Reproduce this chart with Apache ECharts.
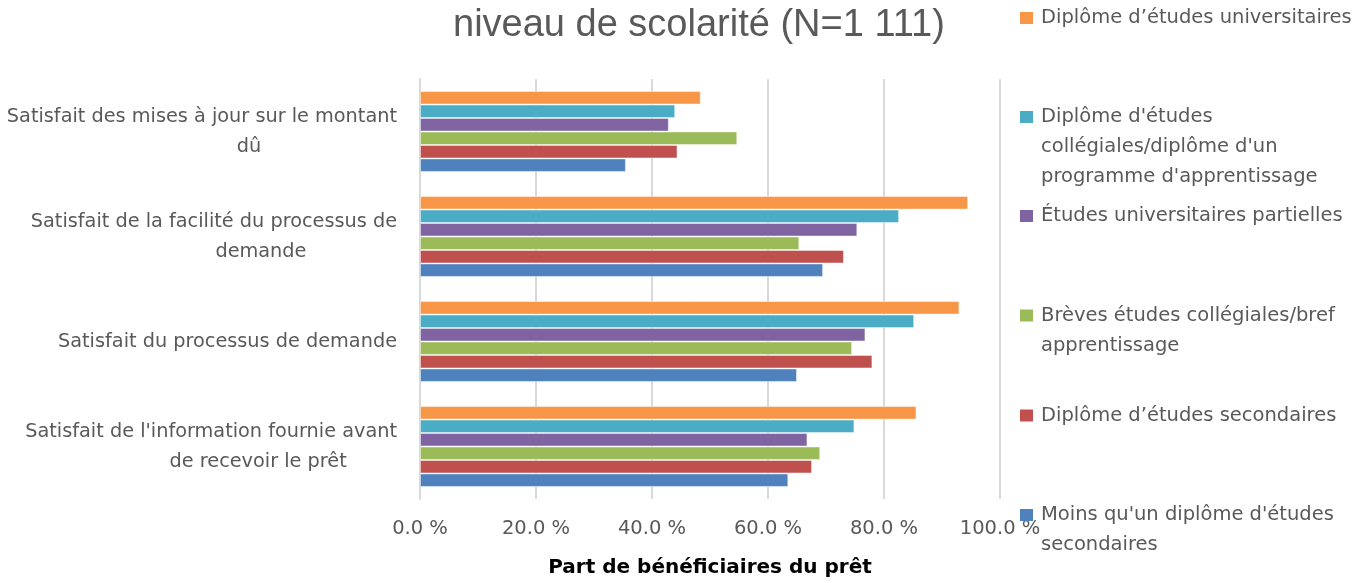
<!DOCTYPE html>
<html>
<head>
<meta charset="utf-8">
<script src="https://cdn.jsdelivr.net/npm/echarts@6/dist/echarts.min.js"></script>
<style>
  html, body { margin: 0; padding: 0; background: #fff; }
  #chart { width: 1371px; height: 583px; }
</style>
</head>
<body>
<div id="chart"></div>
<script>
// Categories, bottom to top
const categories = [
    "Satisfait de l'information fournie avant\nde recevoir le prêt",
    "Satisfait du processus de demande",
    "Satisfait de la facilité du processus de\ndemande",
    "Satisfait des mises à jour sur le montant\ndû"
];

// Series, top bar to bottom bar within each group (same as legend order)
const seriesNames = [
    "Diplôme d’études universitaires",
    "Diplôme d'études collégiales/diplôme d'un programme d'apprentissage",
    "Études universitaires partielles",
    "Brèves études collégiales/bref apprentissage",
    "Diplôme d’études secondaires",
    "Moins qu'un diplôme d'études secondaires"
];
const legendLabels = [
    "Diplôme d’études universitaires",
    "Diplôme d'études\ncollégiales/diplôme d'un\nprogramme d'apprentissage",
    "Études universitaires partielles",
    "Brèves études collégiales/bref\napprentissage",
    "Diplôme d’études secondaires",
    "Moins qu'un diplôme d'études\nsecondaires"
];

// Percent values, same order as categories
const universityDegree = [85.6, 93.0, 94.5, 48.4];
const collegeDiploma = [74.9, 85.2, 82.6, 44.0];
const partialUniversity = [66.8, 76.8, 75.4, 42.9];
const shortCollege = [69.0, 74.5, 65.4, 54.7];
const highSchool = [67.6, 78.0, 73.1, 44.4];
const lessThanHighSchool = [63.5, 65.0, 69.5, 35.5];
const seriesValues = [universityDegree, collegeDiploma, partialUniversity, shortCollege, highSchool, lessThanHighSchool];

const colors = ['#F79646', '#4BACC6', '#8064A2', '#9BBB59', '#C0504D', '#4F81BD'];

// legend icon vertical centres, top to bottom
const legendCenters = [18, 117, 216, 315.5, 415.5, 515];

const FONT = 'DejaVu Sans';
const FS = 19.3;
const LH = 30;

const chart = echarts.init(document.getElementById('chart'), null, { renderer: 'canvas' });

// one legend per item so each can sit at its own height;
// blank lines on top keep the icon level with the first text line
const legends = seriesNames.map((name, i) => {
    const lines = legendLabels[i].split('\n').length;
    const total = lines * 2 - 1;
    return {
        data: [name],
        left: 1020,
        top: legendCenters[i] - total * LH / 2,
        padding: 0,
        itemWidth: 13,
        itemHeight: 12,
        icon: 'rect',
        itemStyle: { borderWidth: 0 },
        selectedMode: false,
        formatter: () => '\n'.repeat(lines - 1) + legendLabels[i],
        textStyle: {
            fontFamily: FONT,
            fontSize: 19.5,
            color: '#595959',
            lineHeight: LH,
            padding: [0, 0, 0, 3]
        }
    };
});

const option = {
    backgroundColor: '#fff',
    animation: false,
    color: colors,
    title: {
        text: 'niveau de scolarité (N=1 111)',
        left: 448,
        top: 2,
        textStyle: {
            fontFamily: 'Liberation Sans',
            fontSize: 38,
            fontWeight: 'normal',
            color: '#595959'
        }
    },
    legend: legends,
    grid: { left: 420, right: 371, top: 79, bottom: 83, containLabel: false },
    xAxis: {
        type: 'value',
        min: 0,
        max: 100,
        interval: 20,
        name: 'Part de bénéficiaires du prêt',
        nameLocation: 'middle',
        nameGap: 59,
        nameTextStyle: {
            fontFamily: FONT,
            fontSize: 20,
            fontWeight: 'bold',
            color: '#000'
        },
        axisLine: { show: false },
        axisTick: { show: false },
        axisLabel: {
            margin: 20,
            fontFamily: FONT,
            fontSize: 19.5,
            color: '#595959',
            formatter: v => v.toFixed(1) + ' %'
        },
        splitLine: { lineStyle: { color: '#d9d9d9', width: 2 } }
    },
    yAxis: {
        type: 'category',
        data: categories,
        axisLine: { show: true, lineStyle: { color: '#d9d9d9', width: 2 } },
        axisTick: { show: false },
        axisLabel: {
            margin: 23,
            lineHeight: LH,
            formatter: v => {
                const parts = v.split('\n');
                if (parts.length === 1) return '{a|' + parts[0] + '}';
                return '{a|' + parts[0] + '}\n{b|' + parts[1] + '}';
            },
            rich: {
                a: { fontFamily: FONT, fontSize: FS, color: '#595959', lineHeight: LH },
                b: { fontFamily: FONT, fontSize: FS, color: '#595959', lineHeight: LH, align: 'center', padding: [0, 0, 0, 94] }
            }
        }
    },
    series: seriesNames.map((name, i) => ({
        name: name,
        type: 'bar',
        data: seriesValues[i],
        barGap: '0%',
        barCategoryGap: '23%',
        itemStyle: {
            color: colors[i],
            borderColor: 'rgba(255,255,255,0.45)',
            borderWidth: 1
        }
    }))
};

chart.setOption(option);
</script>
</body>
</html>
